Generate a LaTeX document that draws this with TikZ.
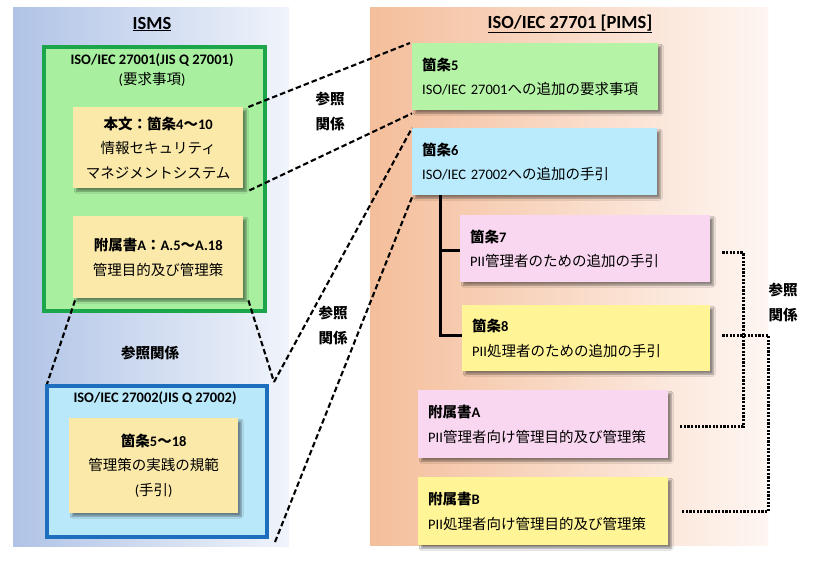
\documentclass[tikz,border=0pt]{standalone}
\usepackage{fontspec}
\setmainfont{Carlito}
\newfontfamily\jp{Noto Sans CJK JP}
\usetikzlibrary{shadows.blur}
\newcommand\J[1]{{\jp #1}}
\definecolor{wheatbox}{RGB}{251,233,170}
\definecolor{gfill}{RGB}{168,240,160}
\definecolor{gborder}{RGB}{28,166,76}
\definecolor{bfill}{RGB}{184,232,250}
\definecolor{bborder}{RGB}{30,110,190}
\definecolor{g5}{RGB}{181,244,166}
\definecolor{b6}{RGB}{185,235,252}
\definecolor{pinkbox}{RGB}{250,215,240}
\definecolor{yelbox}{RGB}{255,245,150}
\definecolor{panLa}{RGB}{176,195,230}
\definecolor{panLb}{RGB}{240,244,251}
\definecolor{panRa}{RGB}{244,190,155}
\definecolor{panRb}{RGB}{254,246,242}
\tikzset{
  body/.style={font=\fontsize{14.5}{24.5}\selectfont},
  shad/.style={blur shadow={shadow xshift=3pt,shadow yshift=-3pt,shadow blur steps=6,shadow opacity=45}},
  inbox/.style={body,shad,fill=wheatbox,anchor=north west,align=center,inner sep=0pt},
  pbox/.style={body,shad,anchor=north west,align=left,inner xsep=10pt,inner ysep=0pt},
  outerbox/.style={anchor=north west,line width=4pt,inner sep=0pt},
  ptitle/.style={font=\fontsize{18.5}{22}\selectfont\bfseries},
  lab/.style={font=\fontsize{14.5}{25}\selectfont\bfseries,align=center},
  dashline/.style={line width=2.1pt,dash pattern=on 5.5pt off 3pt},
  dotline/.style={line width=3pt,dash pattern=on 2.2pt off 1.4pt},
  treeline/.style={line width=3pt}
}
\begin{document}
\begin{tikzpicture}[x=1pt,y=-1pt]
\useasboundingbox (0,0) rectangle (813,565);
\fill[white] (0,0) rectangle (813,565);
% panels
\shade[left color=panLa,right color=panLb] (13,7) rectangle (289,546);
\shade[left color=panRa,right color=panRb] (370,7) rectangle (768,545);
\node[ptitle] (tL) at (152,24) {\underline{ISMS}};
\node[ptitle] (tR) at (570,24) {\underline{ISO/IEC 27701 [PIMS]}};
% ISMS side
\node[outerbox,draw=gborder,fill=gfill,minimum width=221pt,minimum height=264pt] (gb) at (42,45) {};
\node[body,align=center,font=\fontsize{14.5}{19.5}\selectfont] (gt) at (152,70) {\textbf{ISO/IEC 27001(JIS Q 27001)}\\(\J{要求事項})};
\node[inbox,minimum width=170pt,minimum height=81pt] (in1) at (73,107) {\textbf{\J{本文：箇条}4\J{～}10}\\\J{情報セキュリティ}\\\J{マネジメントシステム}};
\node[inbox,minimum width=170pt,minimum height=82pt] (in2) at (73,216) {\textbf{\J{附属書}A\J{：}A.5\J{～}A.18}\\\J{管理目的及び管理策}};
\node[lab] (mid) at (150,353) {\J{参照関係}};
\node[outerbox,draw=bborder,fill=bfill,minimum width=220pt,minimum height=151pt] (bb) at (45,384) {};
\node[body] (bt) at (155,398) {\textbf{ISO/IEC 27002(JIS Q 27002)}};
\node[inbox,minimum width=169pt,minimum height=95pt] (in3) at (69,418) {\textbf{\J{箇条}5\J{～}18}\\\J{管理策の実践の規範}\\(\J{手引})};
% PIMS side
\node[pbox,fill=g5,minimum width=246pt,minimum height=67pt,text width=226pt] (b5) at (412,43) {\textbf{\J{箇条}5}\\ISO/IEC 27001\J{への追加の要求事項}};
\node[pbox,fill=b6,minimum width=245pt,minimum height=67pt,text width=225pt] (b6) at (412,128) {\textbf{\J{箇条}6}\\ISO/IEC 27002\J{への追加の手引}};
\node[pbox,fill=pinkbox,minimum width=250pt,minimum height=67pt,text width=230pt] (b7) at (460,215) {\textbf{\J{箇条}7}\\PII\J{管理者のための追加の手引}};
\node[pbox,fill=yelbox,minimum width=248pt,minimum height=66pt,text width=228pt] (b8) at (462,305) {\textbf{\J{箇条}8}\\PII\J{処理者のための追加の手引}};
\node[pbox,fill=pinkbox,minimum width=250pt,minimum height=68pt,text width=230pt] (aA) at (418,390) {\textbf{\J{附属書}A}\\PII\J{管理者向け管理目的及び管理策}};
\node[pbox,fill=yelbox,minimum width=250pt,minimum height=68pt,text width=230pt] (aB) at (418,477) {\textbf{\J{附属書}B}\\PII\J{処理者向け管理目的及び管理策}};
% labels
\node[lab] (l1) at (330,111) {\J{参照}\\\J{関係}};
\node[lab] (l2) at (333,325) {\J{参照}\\\J{関係}};
\node[lab] (l3) at (783,302) {\J{参照}\\\J{関係}};
% dashed connectors
\coordinate (j) at ([xshift=5pt,yshift=2pt]bb.north east);
\draw[dashline] ([xshift=5pt]in1.north east) -- ([xshift=-2pt]b5.north west);
\draw[dashline] ([xshift=6pt,yshift=-2pt]in1.south east) -- ([yshift=-3pt]b5.south west);
\draw[dashline] (j) -- (b6.north west);
\draw[dashline] ([xshift=6pt,yshift=-3pt]bb.south east) -- ([yshift=-2pt]b6.south west);
\draw[dashline] ([xshift=5pt,yshift=-2pt]in2.south east) -- (j);
\draw[dashline] ([xshift=2pt,yshift=-2pt]in2.south west) -- ([xshift=2pt]bb.north west);
% tree
\coordinate (t) at ([xshift=28pt]b6.south west);
\draw[treeline] (t) |- ([yshift=3pt]b8.west);
\draw[treeline] ([yshift=-2pt]b7.west) -- ([yshift=-2pt]b7.west -| t);
% dotted connectors
\draw[dotline] ([xshift=12pt,yshift=-4pt]b7.east) -- ++(21,0) |- ([xshift=12pt,yshift=-2pt]aA.east);
\draw[dotline] ([xshift=12pt,yshift=3pt]b8.east) -- ++(46,0) |- ([xshift=14pt,yshift=0pt]aB.east);
\end{tikzpicture}
\end{document}
